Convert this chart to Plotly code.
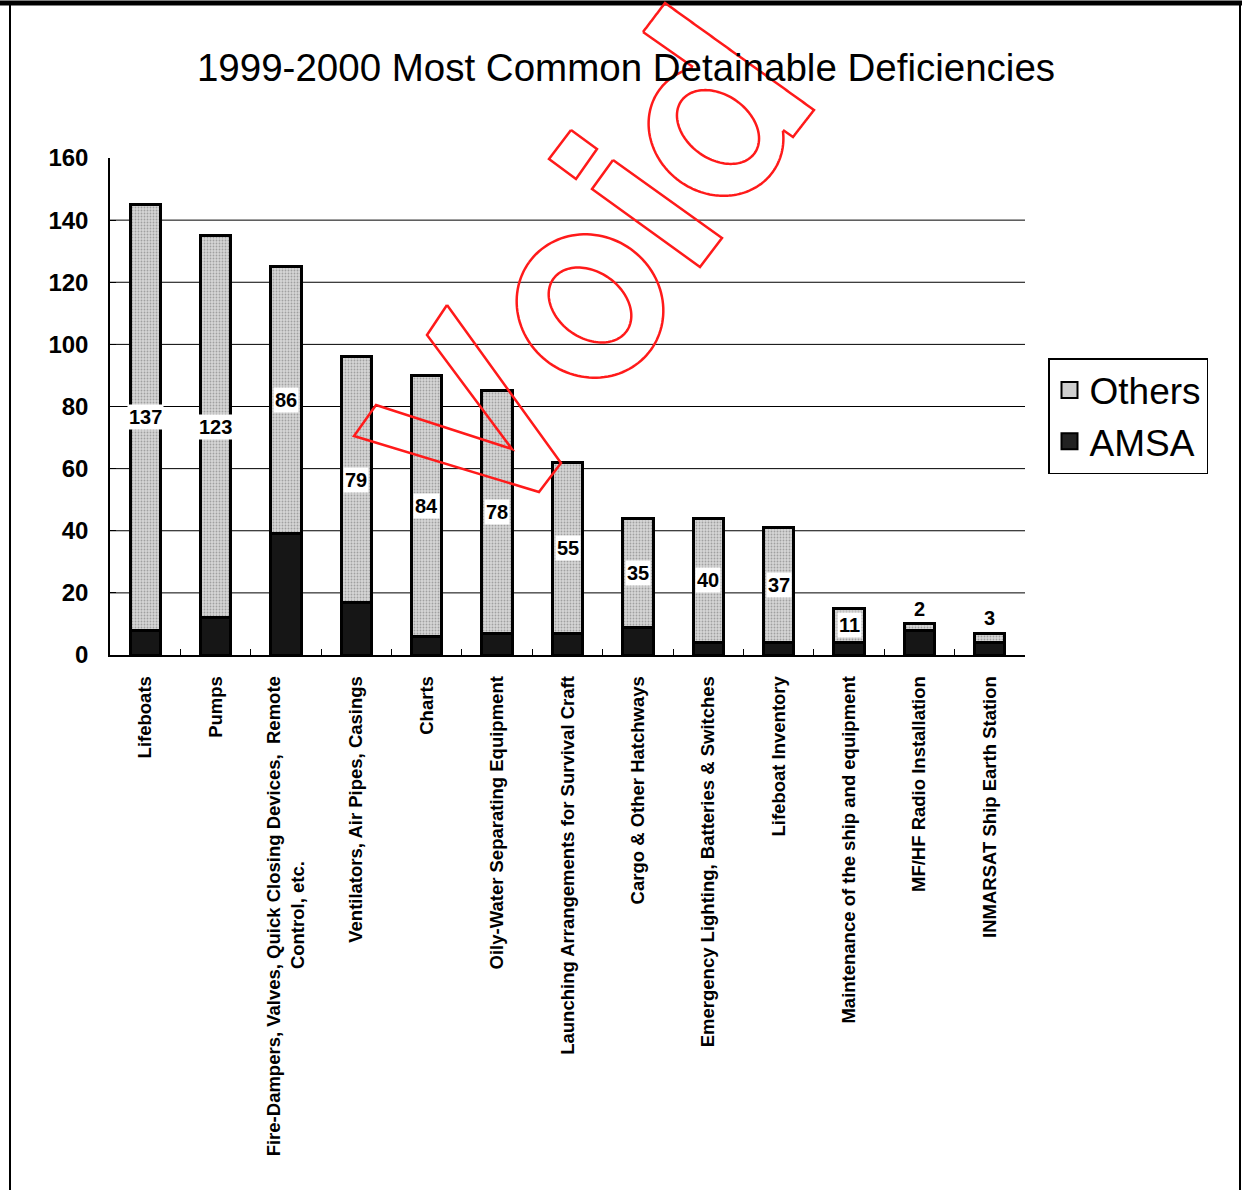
import math
import plotly.graph_objects as go

# ---------------- data ----------------
NBSP = "\u00a0"
categories = [
    "Lifeboats",
    "Pumps",
    "Fire-Dampers, Valves, Quick Closing Devices,  Remote<br>Control, etc." + NBSP * 36,
    "Ventilators, Air Pipes, Casings",
    "Charts",
    "Oily-Water Separating Equipment",
    "Launching Arrangements for Survival Craft",
    "Cargo & Other Hatchways",
    "Emergency Lighting, Batteries & Switches",
    "Lifeboat Inventory",
    "Maintenance of the ship and equipment",
    "MF/HF Radio Installation",
    "INMARSAT Ship Earth Station",
]
amsa = [8, 12, 39, 17, 6, 7, 7, 9, 4, 4, 4, 8, 4]
others = [137, 123, 86, 79, 84, 78, 55, 35, 40, 37, 11, 2, 3]
y_ticks = [0, 20, 40, 60, 80, 100, 120, 140, 160]
title_text = "1999-2000 Most Common Detainable Deficiencies"

# ---------------- layout geometry ----------------
W, H = 1246, 1190
L, R, T, B = 110, 1025, 158, 655

def pp(x, y):
    """pixel -> paper coordinates"""
    return ((x - L) / (R - L), (B - y) / (B - T))

FONT = "Liberation Sans, Arial"
OTHERS_FILL = "#cfcfcf"
AMSA_FILL = "#161616"

fig = go.Figure()
fig.add_trace(go.Bar(
    x=categories, y=amsa, name="AMSA", showlegend=False,
    marker=dict(color=AMSA_FILL, line=dict(color="black", width=3)),
))
fig.add_trace(go.Bar(
    x=categories, y=others, name="Others", showlegend=False,
    marker=dict(color=OTHERS_FILL, line=dict(color="black", width=3),
                pattern=dict(shape=".", bgcolor="#d6d6d6", fgcolor="#6a6a6a",
                             size=3, solidity=0.3)),
))
# legend entries
fig.add_trace(go.Scatter(x=[None], y=[None], mode="markers", name="Others",
                         marker=dict(symbol="square", size=16, color="#cfcfcf",
                                     line=dict(color="black", width=2))))
fig.add_trace(go.Scatter(x=[None], y=[None], mode="markers", name="AMSA",
                         marker=dict(symbol="square", size=16, color="#222222",
                                     line=dict(color="black", width=2))))

annotations = []
for c, a, o in zip(categories, amsa, others):
    if o >= 8:
        annotations.append(dict(x=c, y=a + o / 2, xref="x", yref="y", text=str(o),
                                showarrow=False, bgcolor="white", borderpad=1,
                                font=dict(family=FONT, size=20,
                                          color="black", weight="bold")))
    else:
        annotations.append(dict(x=c, y=a + o, xref="x", yref="y", text=str(o),
                                showarrow=False, yanchor="bottom", yshift=2,
                                font=dict(family=FONT, size=20,
                                          color="black", weight="bold")))

shapes = []
# gridlines
for v in y_ticks[1:-1]:
    shapes.append(dict(type="line", xref="paper", yref="y", x0=0, x1=1, y0=v, y1=v,
                       line=dict(color="black", width=1), layer="below"))
# page border lines
x0, _ = pp(0, 0); x1, _ = pp(1242, 0)
_, ytop = pp(0, 3); _, ybot = pp(0, 1192)
shapes.append(dict(type="line", xref="paper", yref="paper", x0=x0, x1=x1, y0=ytop, y1=ytop,
                   line=dict(color="black", width=5)))
xl, _ = pp(10, 0); xr, _ = pp(1240, 0)
shapes.append(dict(type="line", xref="paper", yref="paper", x0=xl, x1=xl, y0=ytop, y1=ybot,
                   line=dict(color="black", width=2)))
shapes.append(dict(type="line", xref="paper", yref="paper", x0=xr, x1=xr, y0=ytop, y1=ybot,
                   line=dict(color="black", width=2)))

# ---------------- "Void" watermark (outlined red letters) ----------------
UP = (-0.813, -0.582)   # letter "up" direction on screen
RT = (0.582, -0.813)    # letter baseline direction on screen

def path_from_runs(runs):
    s = ""
    for run in runs:
        if len(run) < 2:
            continue
        pts = [pp(x, y) for x, y in run]
        s += "M%.5f,%.5f" % pts[0] + "".join("L%.5f,%.5f" % p for p in pts[1:])
    return s

def ellipse_pts(c, a, b, n=120):
    out = []
    for i in range(n + 1):
        t = 2 * math.pi * i / n
        out.append((c[0] + a * math.cos(t) * UP[0] + b * math.sin(t) * RT[0],
                    c[1] + a * math.cos(t) * UP[1] + b * math.sin(t) * RT[1]))
    return out

def in_ellipse(p, c, a, b):
    dx, dy = p[0] - c[0], p[1] - c[1]
    u = dx * UP[0] + dy * UP[1]
    w = dx * RT[0] + dy * RT[1]
    return (u / a) ** 2 + (w / b) ** 2 < 1

def in_quad(p, q):
    sgn = []
    for i in range(4):
        ax, ay = q[i]; bx, by = q[(i + 1) % 4]
        sgn.append((bx - ax) * (p[1] - ay) - (by - ay) * (p[0] - ax))
    return all(s > 0 for s in sgn) or all(s < 0 for s in sgn)

def poly_pts(q, n=60):
    out = []
    for i in range(len(q)):
        ax, ay = q[i]; bx, by = q[(i + 1) % len(q)]
        for k in range(n):
            t = k / n
            out.append((ax + (bx - ax) * t, ay + (by - ay) * t))
    out.append(q[0])
    return out

def split_runs(pts, keep):
    runs, cur = [], []
    for p in pts:
        if keep(p):
            cur.append(p)
        else:
            if cur:
                runs.append(cur)
            cur = []
    if cur:
        runs.append(cur)
    return runs

RED = dict(color="#ff1a1a", width=2.5)
wm_paths = []
V_poly = [(447, 305), (561, 463), (539, 492), (354, 436), (376, 405), (512, 449), (427, 335)]
wm_paths.append(path_from_runs([V_poly + [V_poly[0]]]))
wm_paths.append(path_from_runs([ellipse_pts((590, 306), 75, 70)]))
wm_paths.append(path_from_runs([ellipse_pts((590, 305), 45, 33)]))
i_stem = [(613, 160), (722, 238), (700, 267), (592, 189)]
i_dot = [(571, 130), (597, 149), (576, 179), (549, 159)]
wm_paths.append(path_from_runs([i_stem + [i_stem[0]]]))
wm_paths.append(path_from_runs([i_dot + [i_dot[0]]]))
d_stem = [(643, 32), (665, 3), (814, 110), (793, 137)]
bowl_c, bowl_a, bowl_b = (716, 131), 70, 62
wm_paths.append(path_from_runs(split_runs(poly_pts(d_stem),
                                          lambda p: not in_ellipse(p, bowl_c, bowl_a, bowl_b))))
wm_paths.append(path_from_runs(split_runs(ellipse_pts(bowl_c, bowl_a, bowl_b, 240),
                                          lambda p: not in_quad(p, d_stem))))
wm_paths.append(path_from_runs([ellipse_pts((718, 127), 45, 32)]))
for pth in wm_paths:
    shapes.append(dict(type="path", xref="paper", yref="paper", path=pth,
                       line=RED, layer="above"))

fig.update_layout(
    width=W, height=H,
    margin=dict(l=L, r=W - R, t=T, b=H - B, autoexpand=False),
    paper_bgcolor="white", plot_bgcolor="white",
    barmode="stack", bargap=0.57,
    title=dict(text=title_text, x=626 / W, xref="container", xanchor="center",
               y=1 - 68 / H, yref="container", yanchor="middle",
               font=dict(family=FONT, size=38.5, color="black")),
    xaxis=dict(showline=True, linecolor="black", linewidth=1.5, ticks="inside",
               tickson="boundaries", ticklen=6, tickcolor="black", showgrid=False,
               tickangle=-90, ticklabelstandoff=12, automargin=False,
               tickfont=dict(family=FONT, size=18.5, color="black", weight="bold"),
               range=[-0.5, len(categories) - 0.5]),
    yaxis=dict(range=[0, 160], tickvals=y_ticks, showline=True, linecolor="black",
               linewidth=1.5, ticks="inside", ticklen=6, tickcolor="black",
               showgrid=False, zeroline=False, ticklabelstandoff=15, automargin=False,
               tickfont=dict(family=FONT, size=24, color="black", weight="bold")),
    legend=dict(x=pp(1048, 0)[0], y=pp(0, 358)[1], xanchor="left", yanchor="top",
                bordercolor="black", borderwidth=1.5, bgcolor="white",
                font=dict(family=FONT, size=37, color="black"),
                itemsizing="trace", tracegroupgap=0, traceorder="normal"),
    annotations=annotations,
    shapes=shapes,
)

fig.write_html("out.html", config={"displayModeBar": False},
               post_script="document.body.style.margin='0';")
